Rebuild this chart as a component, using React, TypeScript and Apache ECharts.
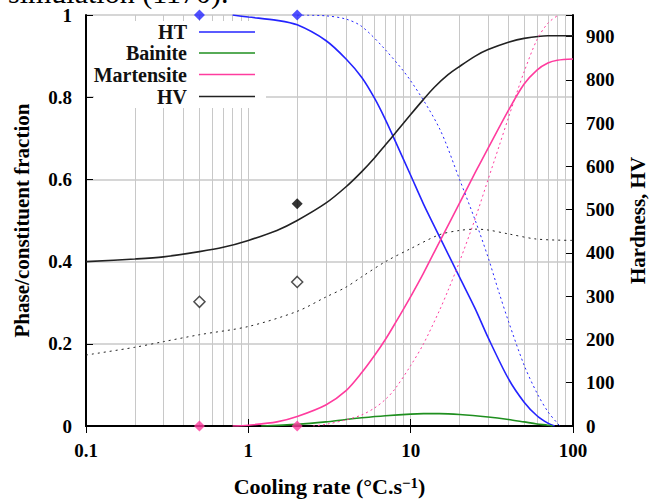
import React, { useEffect, useRef } from 'react';
import * as echarts from 'echarts';

const SERIF = '"Liberation Serif", "Times New Roman", serif';

// minor log grid positions on the cooling-rate axis
const xMinorGrid = [0.2, 0.3, 0.4, 0.5, 0.6, 0.7, 0.8, 0.9, 2, 3, 4, 5, 6, 7, 8, 9, 20, 30, 40, 50, 60, 70, 80, 90];

// legend entries
const legendNames = ['HT', 'Bainite', 'Martensite', 'HV'];

// Phase fractions (left axis) – solid curves
const htSolid = [[0.8, 1], [1, 0.995], [1.5, 0.987], [2, 0.976], [3, 0.938], [4, 0.893], [5, 0.848], [6, 0.797], [7, 0.745], [8, 0.695], [10, 0.61], [12, 0.54], [15, 0.462], [20, 0.362], [25, 0.285], [30, 0.215], [40, 0.115], [50, 0.058], [60, 0.025], [70, 0.007], [77, 0]];
const bainiteSolid = [[1.2, 0], [2, 0.004], [3, 0.01], [4, 0.016], [5, 0.02], [7, 0.025], [10, 0.029], [12, 0.03], [15, 0.03], [20, 0.028], [30, 0.022], [40, 0.016], [50, 0.01], [60, 0.005], [70, 0.002], [75, 0]];
const martensiteSolid = [[0.8, 0], [1, 0.002], [1.5, 0.01], [2, 0.023], [3, 0.051], [4, 0.086], [5, 0.13], [6, 0.172], [7, 0.211], [8, 0.249], [10, 0.315], [12, 0.372], [15, 0.447], [20, 0.542], [25, 0.617], [30, 0.676], [40, 0.768], [50, 0.832], [60, 0.866], [70, 0.883], [80, 0.89], [100, 0.893]];

// Phase fractions – dotted (simulation) curves
const htDotted = [[2, 1], [3, 0.998], [4, 0.99], [5, 0.972], [7, 0.915], [10, 0.84], [15, 0.725], [20, 0.6], [25, 0.5], [30, 0.41], [35, 0.325], [40, 0.255], [50, 0.148], [60, 0.08], [70, 0.035], [80, 0.007], [83, 0]];
const martensiteDotted = [[2.5, 0], [3, 0.004], [4, 0.015], [5, 0.027], [6, 0.044], [7, 0.065], [8, 0.09], [10, 0.147], [12, 0.2], [15, 0.28], [17, 0.33], [20, 0.4], [25, 0.505], [30, 0.6], [35, 0.68], [40, 0.75], [45, 0.81], [50, 0.862], [60, 0.94], [70, 0.98], [80, 0.998]];

// Hardness HV (right axis)
const hvSolid = [[0.1, 380], [0.2, 386], [0.3, 391], [0.5, 403], [0.7, 413], [1, 429], [1.5, 452], [2, 475], [3, 515], [4, 553], [5, 588], [6, 620], [7, 650], [8, 676], [10, 720], [12, 755], [14, 783], [17, 812], [20, 831], [25, 855], [30, 870], [40, 887], [50, 896], [70, 902], [100, 902]];
const hvDotted = [[0.1, 164], [0.2, 182], [0.3, 195], [0.5, 211], [1, 230], [2, 265], [3, 298], [4, 321], [5, 345], [7, 380], [10, 410], [15, 442], [20, 452], [25, 455], [30, 453], [40, 444], [60, 432], [100, 429]];

// Experimental points
const htPoints = [[0.5, 1], [2, 1]];
const martensitePoints = [[0.5, 0], [2, 0]];
const hvFilledPoints = [[2, 514]];
const hvOpenPoints = [[0.5, 287], [2, 333]];

const BLUE = '#2424ff';
const GREEN = '#1f8f1f';
const PINK = '#ff3c9e';
const BLACK = '#222222';
const GRID = '#c8c8c8';

const labelStyle = { fontFamily: SERIF, fontWeight: 'bold' as const, fontSize: 19, color: '#000' };
const nameStyle = { fontFamily: SERIF, fontWeight: 'bold' as const, fontSize: 21, color: '#000' };

function lineSeries(data: number[][], color: string, yAxisIndex: number, dotted: boolean, dash?: number[]) {
  return {
    type: 'line',
    data,
    xAxisIndex: 0,
    yAxisIndex,
    showSymbol: false,
    symbol: 'none',
    smooth: 0.3,
    clip: true,
    lineStyle: { color, width: dotted ? 1 : 1.6, type: dotted ? (dash || [3, 4]) : 'solid' },
    silent: true,
    z: 3,
  };
}

export default function App() {
  const ref = useRef<HTMLDivElement>(null);
  useEffect(() => {
    const chart = echarts.init(ref.current!, null, { renderer: 'svg' });
    const legendRowY = [32, 53, 74.5, 96.5];
    const legendColors = [BLUE, GREEN, PINK, BLACK];
    const legendEls: any[] = [
      { type: 'rect', shape: { x: 94, y: 21, width: 172, height: 87 }, style: { fill: '#fff' }, z: 1, silent: true },
    ];
    legendNames.forEach((n, i) => {
      legendEls.push({
        type: 'text', z: 10, silent: true,
        style: { text: n, x: 187, y: legendRowY[i], textAlign: 'right', verticalAlign: 'middle', font: `bold 20px ${SERIF}`, fill: '#111' },
      });
      legendEls.push({
        type: 'line', z: 10, silent: true,
        shape: { x1: 199, y1: legendRowY[i], x2: 255, y2: legendRowY[i] },
        style: { stroke: legendColors[i], lineWidth: 1.6 },
      });
    });
    legendEls.push({
      type: 'text', z: 10, silent: true,
      style: { text: 'simulation (1170).', x: 8, y: -8, textAlign: 'left', verticalAlign: 'middle', font: `normal 30px ${SERIF}`, fill: '#000' },
    });

    const option: any = {
      animation: false,
      backgroundColor: '#fff',
      grid: { left: 86, top: 15, right: 77, bottom: 76, containLabel: false, outerBoundsMode: 'none' },
      xAxis: [
        {
          type: 'log', logBase: 10, min: 0.1, max: 100, position: 'bottom', gridIndex: 0,
          name: 'Cooling rate (°C.s{s|−1})', nameLocation: 'middle', nameGap: 49,
          nameTextStyle: {
            ...nameStyle,
            fontSize: 22,
            rich: { s: { fontFamily: SERIF, fontWeight: 'bold', fontSize: 15, color: '#000', verticalAlign: 'top', lineHeight: 14 } },
          },
          axisLine: { show: true, lineStyle: { color: '#000', width: 2 } },
          axisTick: { show: true, inside: true, length: 7, lineStyle: { color: '#000', width: 1 } },
          axisLabel: { ...labelStyle, margin: 15 },
          splitLine: { show: true, lineStyle: { color: GRID, width: 1 } },
          minorTick: { show: false },
        },
        {
          type: 'log', logBase: 10, min: 0.1, max: 100, position: 'top', gridIndex: 0,
          axisLine: { show: true, lineStyle: { color: '#000', width: 2 } },
          axisTick: { show: true, inside: true, length: 7, lineStyle: { color: '#000', width: 1 } },
          axisLabel: { show: false },
          splitLine: { show: false },
        },
      ],
      yAxis: [
        {
          type: 'value', min: 0, max: 1, interval: 0.2, position: 'left',
          name: 'Phase/constituent fraction', nameLocation: 'middle', nameGap: 54, nameRotate: 90,
          nameTextStyle: nameStyle,
          axisLine: { show: true, lineStyle: { color: '#000', width: 2 } },
          axisTick: { show: true, inside: true, length: 7, lineStyle: { color: '#000', width: 1 } },
          axisLabel: { ...labelStyle, margin: 14 },
          splitLine: { show: true, lineStyle: { color: GRID, width: 1.5 } },
        },
        {
          type: 'value', min: 0, max: 950, interval: 100, position: 'right',
          name: 'Hardness, HV', nameLocation: 'middle', nameGap: 54, nameRotate: 90,
          nameTextStyle: nameStyle,
          axisLine: { show: true, lineStyle: { color: '#000', width: 2 } },
          axisTick: { show: true, inside: true, length: 7, lineStyle: { color: '#000', width: 1 } },
          axisLabel: { ...labelStyle, margin: 13, formatter: (v: number) => (v > 900 ? '' : String(v)) },
          splitLine: { show: false },
        },
      ],
      graphic: { elements: legendEls },
      series: [
        {
          type: 'line', data: [], xAxisIndex: 0, yAxisIndex: 0, z: 0, silent: true,
          markLine: {
            silent: true, symbol: 'none', z: 0, animation: false,
            label: { show: false },
            lineStyle: { color: GRID, width: 1, type: 'solid' },
            emphasis: { disabled: true },
            data: xMinorGrid.map((v) => ({ xAxis: v })),
          },
        },
        lineSeries(htSolid, BLUE, 0, false),
        lineSeries(bainiteSolid, GREEN, 0, false),
        lineSeries(martensiteSolid, PINK, 0, false),
        lineSeries(hvSolid, BLACK, 1, false),
        lineSeries(htDotted, BLUE, 0, true, [2, 3]),
        lineSeries(martensiteDotted, PINK, 0, true, [2, 3]),
        lineSeries(hvDotted, BLACK, 1, true, [2, 4]),
        { type: 'scatter', data: htPoints, xAxisIndex: 0, yAxisIndex: 0, symbol: 'diamond', symbolSize: 11, clip: false, itemStyle: { color: BLUE }, z: 5, silent: true },
        { type: 'scatter', data: martensitePoints, xAxisIndex: 0, yAxisIndex: 0, symbol: 'diamond', symbolSize: 11, clip: false, itemStyle: { color: PINK }, z: 5, silent: true },
        { type: 'scatter', data: hvFilledPoints, xAxisIndex: 0, yAxisIndex: 1, symbol: 'diamond', symbolSize: 11, clip: false, itemStyle: { color: '#000' }, z: 5, silent: true },
        { type: 'scatter', data: hvOpenPoints, xAxisIndex: 0, yAxisIndex: 1, symbol: 'diamond', symbolSize: 11, clip: false, itemStyle: { color: '#fff', borderColor: '#222', borderWidth: 1.5 }, z: 5, silent: true },
      ],
    };
    chart.setOption(option);
    return () => chart.dispose();
  }, []);
  return <div ref={ref} style={{ position: 'fixed', left: 0, top: 0, width: 650, height: 502, background: '#fff' }} />;
}
